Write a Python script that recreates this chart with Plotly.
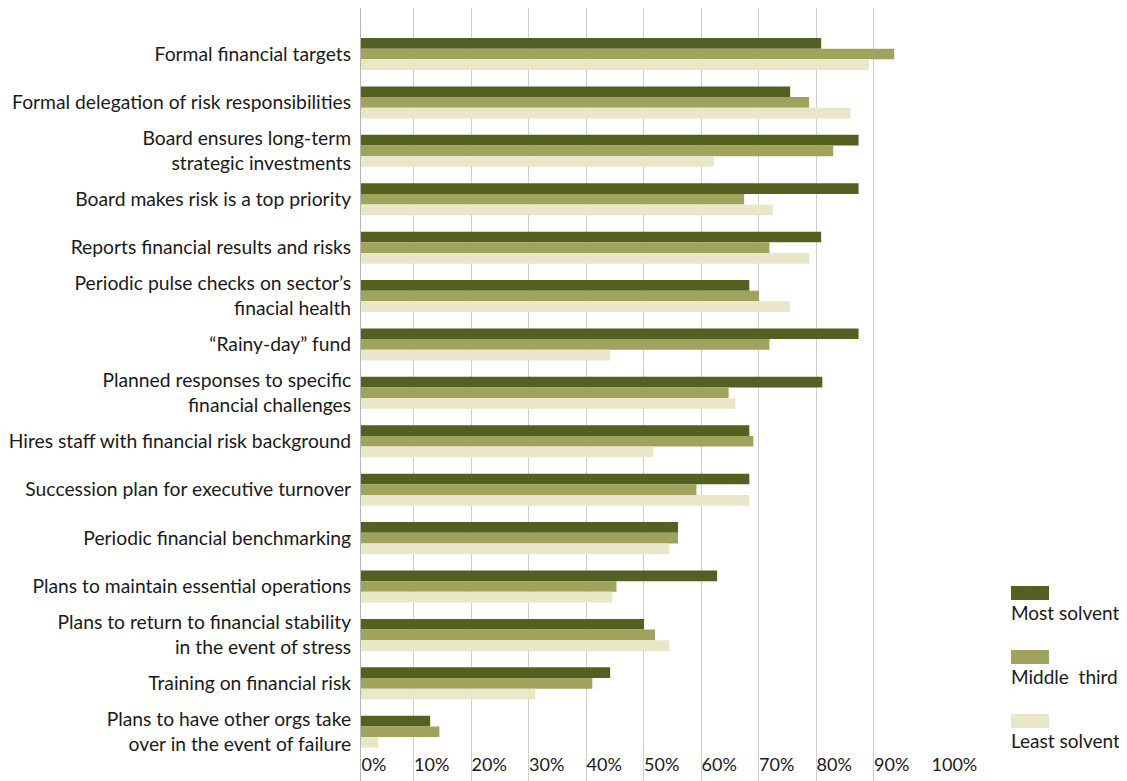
import plotly.graph_objects as go

categories = [
    "Formal financial targets",
    "Formal delegation of risk responsibilities",
    "Board ensures long-term<br>strategic investments",
    "Board makes risk is a top priority",
    "Reports financial results and risks",
    "Periodic pulse checks on sector’s<br>finacial health",
    "“Rainy-day” fund",
    "Planned responses to specific<br>financial challenges",
    "Hires staff with financial risk background",
    "Succession plan for executive turnover",
    "Periodic financial benchmarking",
    "Plans to maintain essential operations",
    "Plans to return to financial stability<br>in the event of stress",
    "Training on financial risk",
    "Plans to have other orgs take<br>over in the event of failure",
]

series_names = ["Most solvent", "Middle\u00a0 third", "Least solvent"]
most_solvent = [80.9, 75.5, 87.4, 87.4, 80.9, 68.4, 87.4, 81.1, 68.4, 68.4, 56.0, 62.8, 50.1, 44.2, 12.9]
middle_third = [93.6, 78.8, 83.0, 67.5, 71.9, 70.1, 71.9, 64.8, 69.1, 59.2, 56.0, 45.3, 52.0, 41.1, 14.5]
least_solvent = [89.2, 86.0, 62.2, 72.5, 78.8, 75.5, 44.2, 66.0, 51.7, 68.4, 54.5, 44.6, 54.5, 31.2, 3.9]
series_values = [most_solvent, middle_third, least_solvent]
colors = ["#526021", "#9fa35b", "#e8e8c8"]

tick_vals = [0.87, 10, 20, 30, 40, 50, 60, 70, 80, 90, 100]
tick_text = ["0%", "10%", "20%", "30%", "40%", "50%", "60%", "70%", "80%", "90%", "100%"]

FONT = "Lato"
TEXT = "#1a1a1a"
GRID = "#cfcfcf"

fig = go.Figure()
for name, vals, col in zip(series_names, series_values, colors):
    fig.add_trace(go.Bar(
        y=categories, x=vals, name=name, orientation="h",
        marker=dict(color=col, line=dict(width=0)),
        showlegend=False,
    ))

# page body adds an 8px offset; layout below is expressed in figure pixels
OFF = 8
W, H = 1127 - OFF, 781 - OFF
ml, mr, mt, mb = 361 - OFF, W - (931 - OFF), 0, 0
pw, ph = W - ml - mr, H - mt - mb

def px_x(px):
    return (px - OFF - ml) / pw

def px_y(py):
    return (H - mb - (py - OFF)) / ph

shapes = []
annotations = []
sw_tops = [586, 650, 714]
txt_centers = [612, 676, 740]
for name, col, top, tc in zip(series_names, colors, sw_tops, txt_centers):
    shapes.append(dict(type="rect", xref="paper", yref="paper",
                       x0=px_x(1011), x1=px_x(1049), y0=px_y(top + 14), y1=px_y(top),
                       fillcolor=col, line=dict(width=0)))
    annotations.append(dict(xref="paper", yref="paper", x=px_x(1009), y=px_y(tc),
                            xanchor="left", yanchor="middle", text=name, showarrow=False,
                            font=dict(family=FONT, size=19, color=TEXT)))

fig.update_layout(
    width=W, height=H,
    margin=dict(l=ml, r=mr, t=mt, b=mb, pad=0, autoexpand=False),
    paper_bgcolor="white", plot_bgcolor="white",
    barmode="group", bargap=0.339, bargroupgap=0,
    font=dict(family=FONT, size=19, color=TEXT),
    shapes=shapes, annotations=annotations,
    xaxis=dict(
        range=[0.87, 100], tickvals=tick_vals, ticktext=tick_text,
        ticklabelposition="inside right", ticklabeloverflow="allow",
        ticks="inside", ticklen=6, tickcolor=GRID, tickwidth=1,
        showgrid=True, gridcolor=GRID, gridwidth=1,
        zeroline=False, showline=False, automargin=False,
        tickfont=dict(family=FONT, size=18, color=TEXT),
        fixedrange=True,
    ),
    yaxis=dict(
        type="category", categoryorder="array", categoryarray=categories,
        range=[15.018, -0.950], automargin=False,
        showgrid=False, zeroline=False, showline=True, linecolor="#b5b5b5", linewidth=1,
        ticks="", ticklabelstandoff=5,
        tickfont=dict(family=FONT, size=19.3, color=TEXT),
        fixedrange=True,
    ),
)

fig.write_html("out.html")
